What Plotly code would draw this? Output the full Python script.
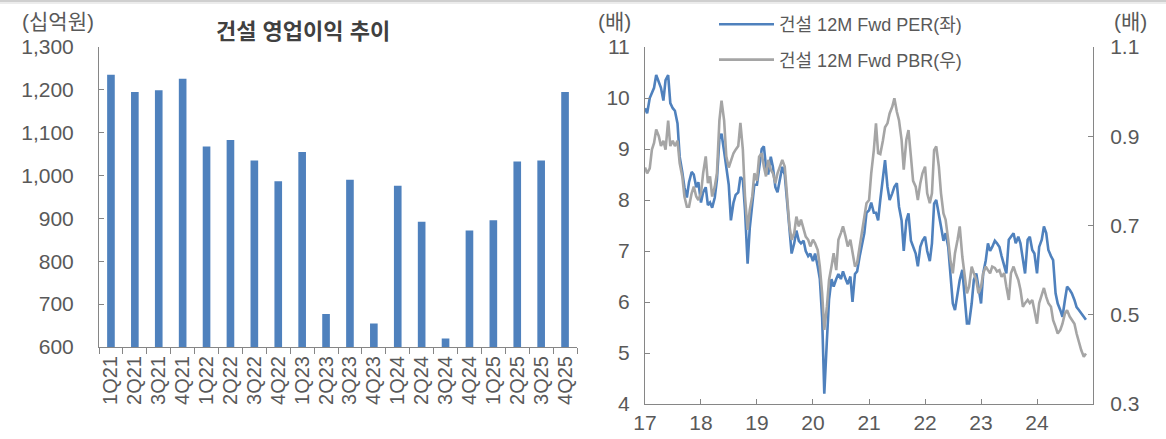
import pandas as pd
import plotly.graph_objects as go

# ---- left panel: quarterly operating profit (KRW bn) ----
quarters = ["1Q21", "2Q21", "3Q21", "4Q21", "1Q22", "2Q22", "3Q22", "4Q22",
            "1Q23", "2Q23", "3Q23", "4Q23", "1Q24", "2Q24", "3Q24", "4Q24",
            "1Q25", "2Q25", "3Q25", "4Q25"]
op_profit = [1235, 1195, 1199, 1226, 1068, 1083, 1035, 987,
             1055, 677, 990, 655, 976, 892, 620, 872,
             896, 1033, 1035, 1195]

# ---- right panel: 12M forward PER / PBR, semi-monthly observations ----
per_2017 = [9.8, 9.7, 10.0, 10.1, 10.2, 10.45, 10.3, 10.2, 9.95, 10.35, 10.45, 9.9,
            9.8, 9.75, 9.5, 8.85, 8.55, 8.25, 8.05, 8.35, 8.55, 8.5, 8.25, 8.35]
per_2018 = [7.95, 8.15, 8.25, 7.9, 7.95, 7.85, 8.05, 8.4, 9.2, 9.3, 8.95, 8.6,
            8.3, 7.6, 7.95, 8.1, 8.15, 8.45, 8.4, 7.8, 6.75, 7.45, 7.95, 8.3]
per_2019 = [8.3, 8.6, 9.0, 9.05, 8.65, 8.5, 8.85, 8.65, 8.25, 8.15, 8.4, 8.65,
            8.5, 8.0, 7.35, 6.95, 7.15, 7.4, 7.2, 7.15, 7.2, 7.0, 6.9, 6.95]
per_2020 = [6.8, 6.95, 6.7, 6.45, 5.7, 4.2, 5.25, 6.05, 6.45, 6.3, 6.45, 6.55,
            6.45, 6.6, 6.45, 6.35, 6.5, 6.0, 6.55, 6.6, 6.9, 7.1, 7.35, 7.75]
per_2021 = [7.8, 7.95, 7.75, 7.75, 7.6, 8.0, 8.4, 8.78, 8.26, 8.0, 8.13, 8.26,
            8.33, 7.87, 7.6, 7.0, 7.6, 7.74, 7.2, 7.08, 6.95, 6.7, 7.08, 7.2]
per_2022 = [7.28, 7.0, 6.8, 7.15, 7.93, 8.0, 7.74, 7.48, 7.2, 7.35, 7.08, 6.56,
            5.97, 5.84, 6.17, 6.43, 6.63, 6.17, 5.58, 5.58, 5.97, 6.43, 6.56, 6.3]
per_2023 = [5.97, 6.56, 6.82, 7.15, 7.0, 7.08, 7.2, 7.15, 7.08, 6.9, 6.7, 6.56,
            7.22, 7.28, 7.35, 7.15, 7.28, 7.15, 6.82, 6.56, 7.22, 7.28, 7.02, 6.95]
per_2024 = [6.56, 7.08, 7.22, 7.48, 7.35, 7.02, 6.9, 6.82, 6.17, 5.97, 5.84, 5.71,
            6.04, 6.3, 6.24, 6.17, 6.04, 5.9, 5.84, 5.78, 5.71, 5.65]

pbr_2017 = [0.83, 0.817, 0.828, 0.87, 0.885, 0.915, 0.90, 0.878, 0.89, 0.87, 0.935, 0.878,
            0.89, 0.878, 0.89, 0.84, 0.81, 0.765, 0.742, 0.742, 0.772, 0.787, 0.765, 0.757]
pbr_2018 = [0.772, 0.817, 0.855, 0.795, 0.81, 0.765, 0.787, 0.817, 0.935, 0.98, 0.935, 0.855,
            0.83, 0.847, 0.862, 0.87, 0.878, 0.93, 0.87, 0.765, 0.69, 0.735, 0.765, 0.817]
pbr_2019 = [0.80, 0.854, 0.862, 0.832, 0.81, 0.847, 0.825, 0.817, 0.795, 0.817, 0.832, 0.847,
            0.832, 0.765, 0.698, 0.668, 0.683, 0.72, 0.698, 0.713, 0.69, 0.675, 0.668, 0.653]
pbr_2020 = [0.668, 0.66, 0.645, 0.608, 0.548, 0.466, 0.518, 0.578, 0.608, 0.638, 0.60, 0.668,
            0.683, 0.698, 0.675, 0.653, 0.668, 0.638, 0.608, 0.616, 0.653, 0.69, 0.727, 0.75]
pbr_2021 = [0.757, 0.817, 0.869, 0.929, 0.862, 0.86, 0.89, 0.92, 0.929, 0.951, 0.966, 0.985,
            0.955, 0.936, 0.892, 0.825, 0.892, 0.914, 0.854, 0.80, 0.787, 0.757, 0.795, 0.817]
pbr_2022 = [0.832, 0.772, 0.75, 0.772, 0.869, 0.877, 0.832, 0.772, 0.727, 0.713, 0.668, 0.623,
            0.593, 0.638, 0.668, 0.698, 0.63, 0.593, 0.548, 0.563, 0.608, 0.593, 0.578, 0.548]
pbr_2023 = [0.563, 0.593, 0.608, 0.60, 0.593, 0.608, 0.605, 0.597, 0.60, 0.585, 0.593, 0.563,
            0.533, 0.593, 0.608, 0.593, 0.578, 0.556, 0.518, 0.526, 0.533, 0.526, 0.533, 0.51]
pbr_2024 = [0.48, 0.526, 0.548, 0.56, 0.54, 0.526, 0.518, 0.488, 0.473, 0.458, 0.466, 0.48,
            0.503, 0.51, 0.496, 0.488, 0.48, 0.458, 0.436, 0.421, 0.406, 0.413]

per = per_2017 + per_2018 + per_2019 + per_2020 + per_2021 + per_2022 + per_2023 + per_2024
pbr = pbr_2017 + pbr_2018 + pbr_2019 + pbr_2020 + pbr_2021 + pbr_2022 + pbr_2023 + pbr_2024
dates = pd.date_range("2017-01-01", periods=len(per), freq="SMS")

W, H = 1166, 439
FONT = "Liberation Sans, Noto Sans CJK KR, sans-serif"
TXT = "#595959"
AX = "#868686"
BLUE = "#4F81BD"
GRAY = "#A5A5A5"


def px_x(p):
    return p / W


def px_y(p):
    return 1 - p / H


fig = go.Figure()

fig.add_trace(go.Bar(
    x=quarters, y=op_profit, xaxis="x", yaxis="y",
    marker=dict(color=BLUE, line=dict(width=0)),
    width=0.32, showlegend=False,
))

fig.add_trace(go.Scatter(
    x=dates, y=per, xaxis="x2", yaxis="y2", mode="lines",
    line=dict(color=BLUE, width=2.6),
    name="건설 12M Fwd PER(좌)", legendgroup="a",
))
fig.add_trace(go.Scatter(
    x=dates, y=pbr, xaxis="x2", yaxis="y3", mode="lines",
    line=dict(color=GRAY, width=2.6),
    name="건설 12M Fwd PBR(우)", legendgroup="b",
))

tick_font = dict(family=FONT, size=21, color=TXT)
small_font = dict(family=FONT, size=21, color=TXT)

fig.update_layout(
    width=W, height=H,
    margin=dict(l=0, r=0, t=0, b=0),
    paper_bgcolor="white", plot_bgcolor="white",
    font=dict(family=FONT, color=TXT),
    xaxis=dict(
        domain=[px_x(99), px_x(577)], anchor="y", type="category", automargin=False,
        tickmode="linear", tick0=0, dtick=1,
        tickson="boundaries", ticks="outside", ticklen=6, tickcolor=AX,
        showline=True, linecolor=AX, linewidth=1, showgrid=False,
        tickangle=-90, tickfont=dict(family=FONT, size=20, color=TXT),
    ),
    yaxis=dict(
        domain=[px_y(347), px_y(47)], anchor="x", range=[600, 1300], dtick=100,
        automargin=False,
        tickformat=",", ticks="inside", ticklen=5, tickcolor=AX,
        showline=True, linecolor=AX, linewidth=1, showgrid=False, zeroline=False,
        tickfont=tick_font, ticklabelstandoff=20,
    ),
    xaxis2=dict(
        domain=[px_x(645), px_x(1093)], anchor="y2", type="date", automargin=False,
        range=["2017-01-01", "2024-12-31"], tick0="2017-01-01", dtick="M12",
        tickformat="%y", ticks="inside", ticklen=5, tickcolor=AX,
        showline=True, linecolor=AX, linewidth=1, showgrid=False,
        tickfont=tick_font,
    ),
    yaxis2=dict(
        domain=[px_y(404), px_y(47)], anchor="x2", range=[4, 11], dtick=1,
        automargin=False,
        ticks="inside", ticklen=5, tickcolor=AX,
        showline=True, linecolor=AX, linewidth=1, showgrid=False, zeroline=False,
        tickfont=tick_font, ticklabelstandoff=10,
    ),
    yaxis3=dict(
        overlaying="y2", anchor="x2", side="right", range=[0.3, 1.1],
        tick0=0.3, dtick=0.2, automargin=False,
        tickformat=".1f", ticks="inside", ticklen=5, tickcolor=AX,
        showline=True, linecolor=AX, linewidth=1, showgrid=False, zeroline=False,
        tickfont=tick_font, ticklabelstandoff=12,
    ),
    legend=dict(
        x=px_x(714), y=px_y(6), xanchor="left", yanchor="top",
        bgcolor="rgba(255,255,255,0)", font=dict(family=FONT, size=18, color=TXT),
        tracegroupgap=9, itemwidth=55,
    ),
    annotations=[
        dict(text="(십억원)", x=px_x(20), y=px_y(22), xref="paper", yref="paper",
             xanchor="left", yanchor="middle", showarrow=False, font=small_font),
        dict(text="<b>건설 영업이익 추이</b>", x=px_x(303), y=px_y(31), xref="paper", yref="paper",
             xanchor="center", yanchor="middle", showarrow=False,
             font=dict(family=FONT, size=22, color="#404040")),
        dict(text="(배)", x=px_x(614), y=px_y(22), xref="paper", yref="paper",
             xanchor="center", yanchor="middle", showarrow=False, font=small_font),
        dict(text="(배)", x=px_x(1130), y=px_y(22), xref="paper", yref="paper",
             xanchor="center", yanchor="middle", showarrow=False, font=small_font),
    ],
    shapes=[
        dict(type="rect", xref="paper", yref="paper", x0=0, x1=1,
             y0=px_y(2), y1=1, fillcolor="#cfcfcf", line=dict(width=0), layer="above"),
        dict(type="rect", xref="paper", yref="paper", x0=0, x1=1,
             y0=px_y(4), y1=px_y(2), fillcolor="#ececec", line=dict(width=0), layer="above"),
    ],
)

fig.write_html("out.html")
